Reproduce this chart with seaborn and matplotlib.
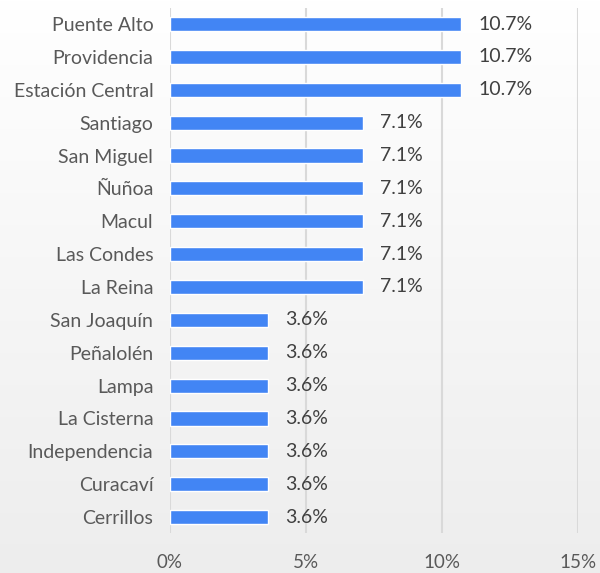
import numpy as np
import pandas as pd
import matplotlib
matplotlib.use("Agg")
import matplotlib.pyplot as plt
import seaborn as sns

comunas = ["Puente Alto", "Providencia", "Estación Central", "Santiago", "San Miguel",
           "Ñuñoa", "Macul", "Las Condes", "La Reina", "San Joaquín", "Peñalolén",
           "Lampa", "La Cisterna", "Independencia", "Curacaví", "Cerrillos"]
porcentajes = [10.7, 10.7, 10.7, 7.1, 7.1, 7.1, 7.1, 7.1, 7.1, 3.6, 3.6, 3.6, 3.6, 3.6, 3.6, 3.6]
xticks = [0, 5, 10, 15]
xtick_labels = ["0%", "5%", "10%", "15%"]

df = pd.DataFrame({"comuna": comunas, "pct": porcentajes})

sns.set_theme(style="white")
plt.rcParams["font.family"] = ["Lato", "DejaVu Sans"]

fig = plt.figure(figsize=(6.0, 5.73), dpi=100)

# background gradient
bg = fig.add_axes([0, 0, 1, 1], zorder=-10)
grad = np.linspace(1.0, 0.93, 256).reshape(-1, 1)
bg.imshow(np.dstack([grad, grad, grad]), aspect="auto", extent=[0, 1, 0, 1])
bg.axis("off")

ax = fig.add_axes([0.2833, 0.069, 0.68, 0.9177])
ax.patch.set_alpha(0)
sns.barplot(data=df, x="pct", y="comuna", color="#4285f4", saturation=1,
            width=0.43, ax=ax, zorder=3)

ax.set_xlim(0, 15)
ax.set_ylim(15.5, -0.5)
ax.set_xticks(xticks)
ax.set_xticklabels(xtick_labels)
ax.set_xlabel("")
ax.set_ylabel("")
for s in ax.spines.values():
    s.set_visible(False)
ax.grid(axis="x", color="#d9d9d9", linewidth=1.5, zorder=0)
ax.set_axisbelow(True)
ax.tick_params(axis="y", length=0, labelsize=14, colors="#595959", pad=12)
ax.tick_params(axis="x", length=0, labelsize=13.5, colors="#595959", pad=15)

for i, v in enumerate(porcentajes):
    ax.annotate(f"{v:.1f}%", xy=(v, i), xytext=(17, 0), textcoords="offset pixels",
                ha="left", va="center", fontsize=14, color="#404040")

fig.savefig("out.png", dpi=100)
